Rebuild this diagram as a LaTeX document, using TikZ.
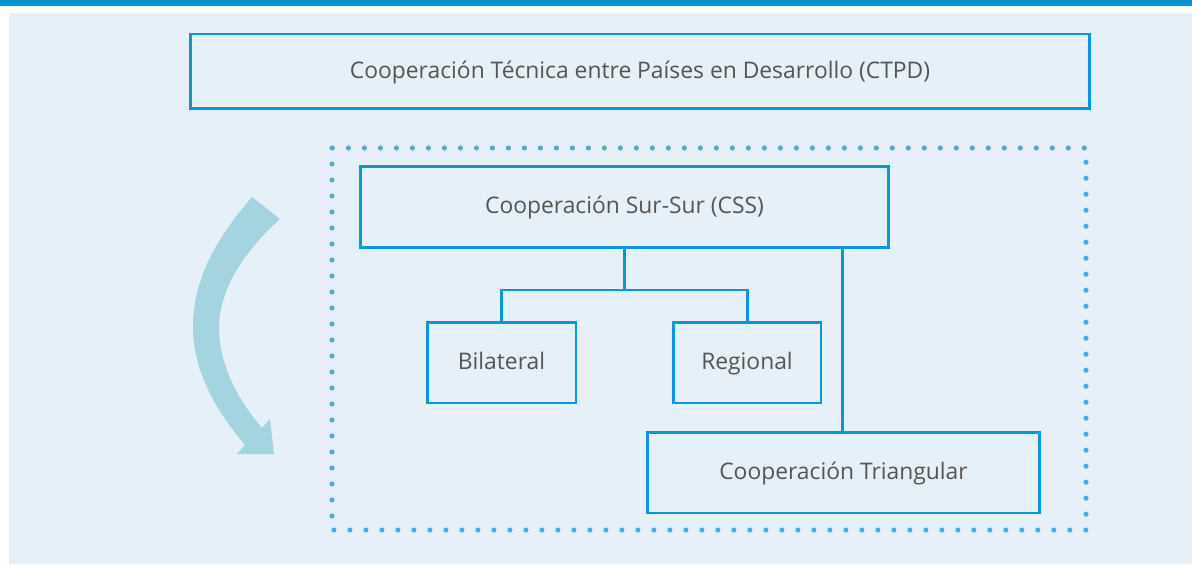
\documentclass[tikz,border=0pt]{standalone}
\usepackage{fontspec}
\setmainfont{Open Sans}
\usepackage{tikz}
\usetikzlibrary{positioning}
\usetikzlibrary{calc}

\definecolor{barra}{HTML}{0795D6}
\definecolor{fondo}{HTML}{E5F0F9}
\definecolor{borde}{HTML}{0A97D5}
\definecolor{puntos}{HTML}{4DA9E1}
\definecolor{flecha}{HTML}{A5D4E1}
\definecolor{texto}{HTML}{555555}

\begin{document}
\begin{tikzpicture}[x=0.02cm, y=-0.02cm,
    caja/.style={draw=borde, line width=1.7pt, minimum height=1.62cm,
                 inner sep=0pt, text height=1.6ex, text depth=0.2ex,
                 text=texto, font=\fontsize{13}{15}\selectfont},
    linea/.style={draw=borde, line width=1.7pt}]

    \useasboundingbox (0,0) rectangle (1192,564);

	%fondo
    \fill[barra] (0,0) rectangle (1192,6);
    \fill[fondo] (9,13) rectangle (1192,564);

	%cajas
    \node[caja, minimum width=18cm, minimum height=1.5cm] (ctpd) at (640,71.5) {Cooperación Técnica entre Países en Desarrollo (CTPD)};
    \node[caja, minimum width=10.58cm] (css) at (624.5,207) {Cooperación Sur-Sur (CSS)};
    \node[caja, minimum width=2.98cm] (bil) at (501.5,362.5) {Bilateral};
    \node[caja, minimum width=2.96cm] (reg) at (747,362.5) {Regional};
    \node[caja, minimum width=7.86cm] (tri) at (843.5,472.5) {Cooperación Triangular};

	%lineas
    \coordinate (fork) at (624.5,290);
    \draw[linea] (css.south) -- (fork);
    \draw[linea] (bil.north) |- (fork) -| (reg.north);
    \draw[linea] (tri.north -| 842,0) -- (css.south -| 842,0);

	%recuadro punteado
    \draw[puntos, line width=2.9pt, line cap=round, dash pattern=on 0pt off 0.32cm]
        (332,148) rectangle (1086,530);

	%flecha curva
    \fill[flecha] (252,197) -- (280,219)
        .. controls (245,250) and (219,290) .. (219,327)
        .. controls (219,365) and (238,400) .. (262,428)
        -- (270,419) -- (274,454) -- (237,454) -- (245,445)
        .. controls (215,410) and (193,370) .. (193,327)
        .. controls (193,280) and (215,240) .. (252,197) -- cycle;

\end{tikzpicture}
\end{document}
